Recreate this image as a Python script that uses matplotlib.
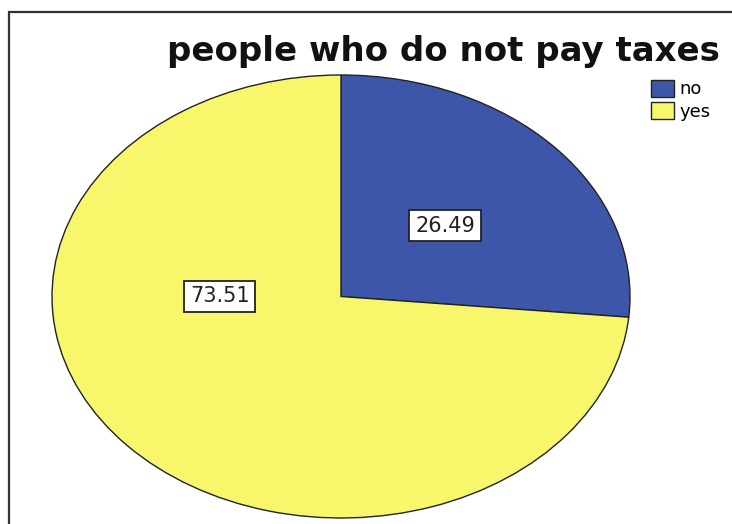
import matplotlib.pyplot as plt
from matplotlib.patches import Rectangle, Patch

labels = ['no', 'yes']
values = [26.49, 73.51]
colors = ['#3D56AA', '#F8F76C']
text_pos = [(0.36, 0.32), (-0.42, 0.0)]

plt.rcParams['font.family'] = ['DejaVu Sans']

fig = plt.figure(figsize=(7.32, 5.24), dpi=100)

# outer frame, runs off the right and bottom edge
fig.patches.append(Rectangle((9 / 732, -0.1), 1.0, 1.1 - 12 / 524, transform=fig.transFigure,
                             fill=False, edgecolor='#333333', linewidth=1.6))

ax = fig.add_axes([52 / 732, 6 / 524, 578 / 732, 443 / 524])
wedges, _ = ax.pie(values, colors=colors, startangle=90, counterclock=False,
                   wedgeprops=dict(edgecolor='#222222', linewidth=1.0))
for w in wedges:
    w.set_clip_on(False)
ax.set_aspect('auto')
ax.set_xlim(-1, 1)
ax.set_ylim(-1, 1)

for v, (x, y) in zip(values, text_pos):
    ax.text(x, y, f'{v:.2f}', ha='center', va='center', fontsize=15, color='#222222',
            bbox=dict(boxstyle='square,pad=0.27', facecolor='white', edgecolor='#222222', linewidth=1.3))

fig.text(443 / 732, 1 - 52 / 524, 'people who do not pay taxes', ha='center', va='center',
         fontsize=24.5, fontweight='bold', color='#111111')

handles = [Patch(facecolor=c, edgecolor='#222222', label=l) for c, l in zip(colors, labels)]
fig.legend(handles=handles, loc='upper left', bbox_to_anchor=(638 / 732, 1 - 67 / 524),
           frameon=False, fontsize=13, handlelength=1.3, handleheight=1.1,
           handletextpad=0.3, labelspacing=0.2, borderpad=0.2)

fig.savefig('out.png', dpi=100)
